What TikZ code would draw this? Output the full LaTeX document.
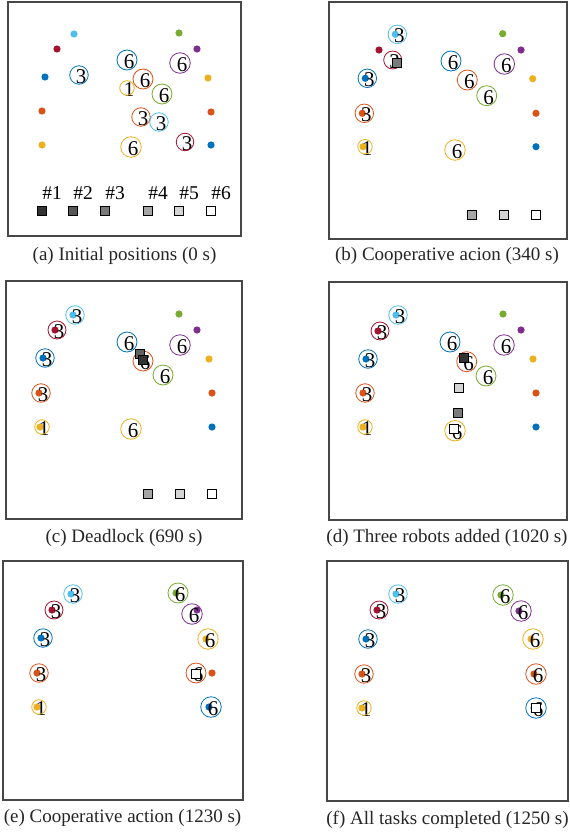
\documentclass[tikz,border=0pt]{standalone}
\usepackage{fontspec}
\setmainfont{Liberation Serif}
\usetikzlibrary{calc}
\definecolor{mblue}{HTML}{0072BD}
\definecolor{morange}{HTML}{D95319}
\definecolor{myellow}{HTML}{EDB120}
\definecolor{mpurple}{HTML}{7E2F8E}
\definecolor{mgreen}{HTML}{77AC30}
\definecolor{mcyan}{HTML}{4DBEEE}
\definecolor{mred}{HTML}{A2142F}
\tikzset{
  frame/.style={draw=black!72, line width=1.1pt},
  dotn/.style={circle, inner sep=0pt, minimum size=7.2pt, draw=none},
  tc/.style={circle, inner sep=0pt, line width=0.8pt},
  digit/.style={inner sep=0pt, font=\fontsize{21}{21}\selectfont},
  sqn/.style={rectangle, draw=black, line width=0.8pt, inner sep=0pt, minimum size=9pt},
  lbl/.style={inner sep=0pt, font=\fontsize{19.5}{19.5}\selectfont},
  captxt/.style={inner sep=0pt, text=black!85, font=\fontsize{19}{19}\selectfont},
}
% dot: name, x, y, colour
\newcommand{\dotp}[4]{\node[dotn, fill=#4] (#1) at (#2,#3) {};}
% task: name, x, y, colour, diameter, digit
\newcommand{\tsk}[6]{\node[digit] (#1n) at (#2+2,#3+1.5) {#6};\node[tc, draw=#4, minimum size=#5pt] (#1) at (#2,#3) {};}
% robot on task: dot slightly left
\newcommand{\rtsk}[6]{\node[dotn, fill=#4] (#1d) at (#2-2,#3) {};\tsk{#1}{#2}{#3}{#4}{#5}{#6}}
% square: name, x, y, fill
\newcommand{\sqp}[4]{\node[sqn, fill=#4] (#1) at (#2,#3) {};}
\begin{document}
\begin{tikzpicture}[x=1pt,y=-1pt]
\useasboundingbox (0,0) rectangle (570,835);
\fill[white] (0,0) rectangle (570,835);
%%%%%%%%%%%%%%%% (a)
\draw[frame] (8,2) rectangle (241,236);
\dotp{a1}{74}{34}{mcyan}
\dotp{a2}{57}{49}{mred}
\dotp{a3}{45}{77}{mblue}
\dotp{a4}{42}{111}{morange}
\dotp{a5}{42}{145}{myellow}
\dotp{a6}{179}{33}{mgreen}
\dotp{a7}{197}{49}{mpurple}
\dotp{a8}{208}{78}{myellow}
\dotp{a9}{211}{112}{morange}
\dotp{a10}{211}{145}{mblue}
\tsk{at1}{127}{60}{mblue}{20}{6}
\tsk{at2}{79}{75}{mblue}{18.5}{3}
\tsk{at3}{143}{79}{morange}{20}{6}
\tsk{at4}{127}{88}{myellow}{14.5}{1}
\tsk{at5}{162}{94}{mgreen}{20}{6}
\tsk{at6}{180}{63}{mpurple}{20.5}{6}
\tsk{at7}{141}{117}{morange}{18.5}{3}
\tsk{at8}{159}{122}{mcyan}{18.5}{3}
\tsk{at9}{185}{142}{mred}{17.5}{3}
\tsk{at10}{131}{147}{myellow}{20.5}{6}
\sqp{as1}{42}{211}{black!80}
\sqp{as2}{73}{211}{black!66}
\sqp{as3}{105}{211}{black!52}
\sqp{as4}{148}{211}{black!35}
\sqp{as5}{179}{211}{black!17}
\sqp{as6}{211}{211}{white}
\node[lbl] (al1) at (52,193) {\#1};
\node[lbl] (al2) at (83,193) {\#2};
\node[lbl] (al3) at (115,193) {\#3};
\node[lbl] (al4) at (158,193) {\#4};
\node[lbl] (al5) at (189,193) {\#5};
\node[lbl] (al6) at (221,193) {\#6};
\node[captxt] (acap) at (124.5,256) {(a) Initial positions (0 s)};
%%%%%%%%%%%%%%%% (b)
\draw[frame] (329,2) rectangle (567,239);
\dotp{b1}{502.7}{33.7}{mgreen}
\dotp{b2}{521}{50}{mpurple}
\dotp{b3}{532.7}{78.7}{myellow}
\dotp{b4}{536}{113.3}{morange}
\dotp{b5}{536}{146.7}{mblue}
\dotp{b6}{379}{50}{mred}
\rtsk{bt1}{397.3}{34.3}{mcyan}{18.5}{3}
\tsk{bt2}{392.7}{60}{mred}{18}{3}
\rtsk{bt3}{367.3}{78.3}{mblue}{18.5}{3}
\rtsk{bt4}{364.3}{113.3}{morange}{18.5}{3}
\rtsk{bt5}{365}{146.7}{myellow}{14.5}{1}
\tsk{bt6}{451}{61}{mblue}{20}{6}
\tsk{bt7}{467.3}{80}{morange}{20}{6}
\tsk{bt8}{486.7}{95.7}{mgreen}{20}{6}
\tsk{bt9}{504.3}{64}{mpurple}{20.5}{6}
\tsk{bt10}{455}{150}{myellow}{20.5}{6}
\sqp{bs3}{397.3}{62.7}{black!52}
\sqp{bs4}{471.7}{215}{black!35}
\sqp{bs5}{504.3}{215}{black!17}
\sqp{bs6}{536}{215}{white}
\node[captxt] (bcap) at (447,256) {(b) Cooperative acion (340 s)};
%%%%%%%%%%%%%%%% (c)
\draw[frame] (6,281) rectangle (242,519);
\dotp{c1}{179}{314}{mgreen}
\dotp{c2}{197}{330}{mpurple}
\dotp{c3}{209}{359}{myellow}
\dotp{c4}{212}{393}{morange}
\dotp{c5}{212}{427}{mblue}
\rtsk{ct1}{75}{315}{mcyan}{18.5}{3}
\rtsk{ct2}{57}{330}{mred}{18}{3}
\rtsk{ct3}{45}{358}{mblue}{18.5}{3}
\rtsk{ct4}{41}{393}{morange}{18.5}{3}
\rtsk{ct5}{42}{427}{myellow}{14.5}{1}
\tsk{ct6}{127}{342}{mblue}{20}{6}
\tsk{ct7}{143}{361}{morange}{20}{6}
\tsk{ct8}{163}{375}{mgreen}{20}{6}
\tsk{ct9}{180}{345}{mpurple}{20.5}{6}
\tsk{ct10}{131}{429}{myellow}{20.5}{6}
\sqp{cs2}{140}{354}{black!62}
\sqp{cs1}{143.3}{360}{black!80}
\sqp{cs4}{148}{494}{black!35}
\sqp{cs5}{180}{494}{black!17}
\sqp{cs6}{212}{494}{white}
\node[captxt] (ccap) at (124,538) {(c) Deadlock (690 s)};
%%%%%%%%%%%%%%%% (d)
\draw[frame] (329,282) rectangle (567,520);
\dotp{d1}{503}{314}{mgreen}
\dotp{d2}{521}{330}{mpurple}
\dotp{d3}{533}{359}{myellow}
\dotp{d4}{536}{393}{morange}
\dotp{d5}{536}{427}{mblue}
\rtsk{dt1}{398}{315}{mcyan}{18.5}{3}
\rtsk{dt2}{380}{331}{mred}{18}{3}
\rtsk{dt3}{368}{359}{mblue}{18.5}{3}
\rtsk{dt4}{365}{393}{morange}{18.5}{3}
\rtsk{dt5}{365}{427}{myellow}{14.5}{1}
\tsk{dt6}{450}{342}{mblue}{20}{6}
\tsk{dt7}{466.7}{361.7}{morange}{20}{6}
\tsk{dt8}{486}{376}{mgreen}{20}{6}
\tsk{dt9}{504}{345}{mpurple}{20.5}{6}
\tsk{dt10}{455}{430.7}{myellow}{20.5}{6}
\sqp{ds1}{464.3}{358.3}{black!80}
\sqp{ds5}{459.3}{388.3}{black!17}
\sqp{ds3}{457.7}{413.3}{black!52}
\sqp{ds6}{454}{429.3}{white}
\node[captxt] (dcap) at (447,538) {(d) Three robots added (1020 s)};
%%%%%%%%%%%%%%%% (e)
\draw[frame] (3,561) rectangle (243,800);
\rtsk{et1}{73}{594}{mcyan}{18.5}{3}
\rtsk{et2}{54}{610}{mred}{18}{3}
\rtsk{et3}{43}{638}{mblue}{18.5}{3}
\rtsk{et4}{39}{673}{morange}{18.5}{3}
\rtsk{et5}{39}{707}{myellow}{14.5}{1}
\rtsk{et6}{178}{593}{mgreen}{20}{6}
\dotp{e7d}{197}{610}{mpurple}
\tsk{et7}{192}{614}{mpurple}{20.5}{6}
\rtsk{et8}{208}{639}{myellow}{20.5}{6}
\tsk{et9}{196}{673}{morange}{20}{6}
\sqp{es6}{196}{674}{white}
\dotp{e9}{212}{673}{morange}
\rtsk{et10}{211}{707}{mblue}{20.5}{6}
\node[captxt] (ecap) at (122.5,818) {(e) Cooperative action (1230 s)};
%%%%%%%%%%%%%%%% (f)
\draw[frame] (327,561) rectangle (568,801);
\rtsk{ft1}{398}{594}{mcyan}{18.5}{3}
\rtsk{ft2}{379}{610}{mred}{18}{3}
\rtsk{ft3}{368}{639}{mblue}{18.5}{3}
\rtsk{ft4}{364}{674}{morange}{18.5}{3}
\rtsk{ft5}{364}{708}{myellow}{14.5}{1}
\rtsk{ft6}{503}{595}{mgreen}{20.5}{6}
\rtsk{ft7}{521}{611}{mpurple}{20.5}{6}
\rtsk{ft8}{533}{639}{myellow}{20.5}{6}
\rtsk{ft9}{536}{674}{morange}{20.5}{6}
\rtsk{ft10}{536}{708}{mblue}{20.5}{6}
\sqp{fs6}{536}{708}{white}
\node[captxt] (fcap) at (447.5,820) {(f) All tasks completed (1250 s)};
\end{tikzpicture}
\end{document}
